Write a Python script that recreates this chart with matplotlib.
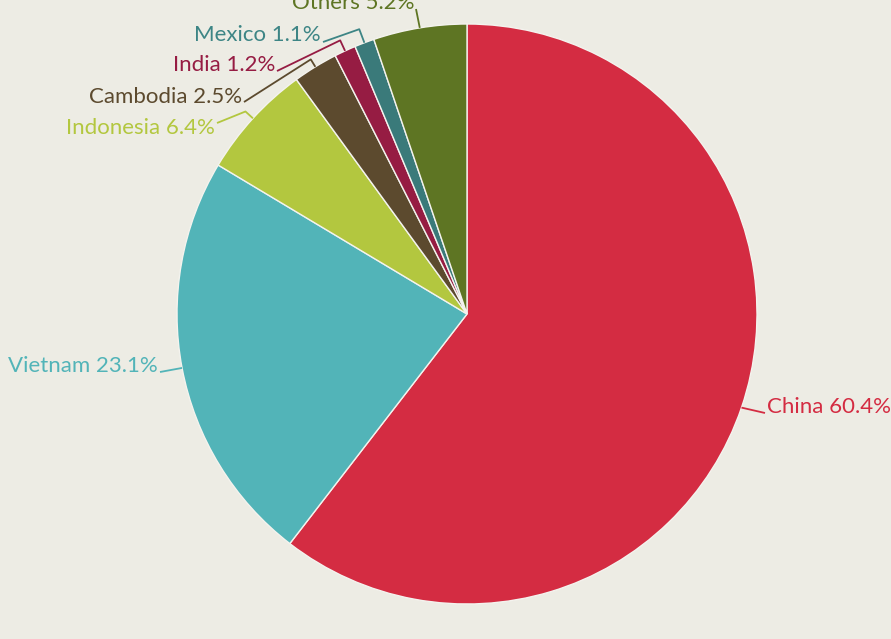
import numpy as np
import matplotlib.pyplot as plt

countries = ["China", "Vietnam", "Indonesia", "Cambodia", "India", "Mexico", "Others"]
shares = [60.4, 23.1, 6.4, 2.5, 1.2, 1.1, 5.2]
colors = ["#d42c42", "#52b4b8", "#b3c73f", "#5c4a2e", "#961c43", "#3a7a7a", "#5e7523"]
text_colors = ["#d42c42", "#52b4b8", "#b3c73f", "#5c4a2e", "#961c43", "#3d8585", "#5e7523"]

BG = "#edece4"
W, H = 891, 639
CX, CY, R = 467, 314, 290

# label layout in pixels: (line end x, line end y, text baseline y, elbow radius, side)
label_layout = {
    "China": (765, 413, 413, 1.0, "left"),
    "Vietnam": (160, 372, 372, 1.0, "right"),
    "Indonesia": (217, 123, 134, 1.035, "right"),
    "Cambodia": (244, 102, 103, 1.03, "right"),
    "India": (277, 71, 71, 1.04, "right"),
    "Mexico": (323, 42, 41, 1.05, "right"),
    "Others": (416, 9, 9, 1.0, "right"),
}


def px2data(px, py):
    return (px - CX) / R, (CY - py) / R


plt.rcParams["font.family"] = ["Lato", "DejaVu Sans"]

fig = plt.figure(figsize=(W / 100, H / 100), dpi=100)
fig.patch.set_facecolor(BG)
ax = fig.add_axes([(CX - R) / W, 1 - (CY + R) / H, 2 * R / W, 2 * R / H])
ax.set_facecolor(BG)

wedges, _ = ax.pie(shares, colors=colors, startangle=90, counterclock=False,
                   wedgeprops=dict(edgecolor="#f4f3ee", linewidth=1.0))
ax.set_xlim(-1, 1)
ax.set_ylim(-1, 1)
ax.set_aspect("equal")
ax.axis("off")

for w, name, share, tc in zip(wedges, countries, shares, text_colors):
    ang = np.deg2rad((w.theta1 + w.theta2) / 2)
    ex, ey = np.cos(ang), np.sin(ang)
    lx, ly, by, er, side = label_layout[name]
    tx, ty = px2data(lx, ly)
    ax.plot([ex, ex * er, tx], [ey, ey * er, ty], color=tc, lw=1.3,
            clip_on=False, solid_capstyle="butt")
    gap = 2 / R if side == "left" else -2 / R
    ax.text(tx + gap, px2data(lx, by)[1], f"{name} {share}%", color=tc,
            fontsize=16, ha=side, va="baseline", clip_on=False)

fig.savefig("out.png", dpi=100, facecolor=BG)
